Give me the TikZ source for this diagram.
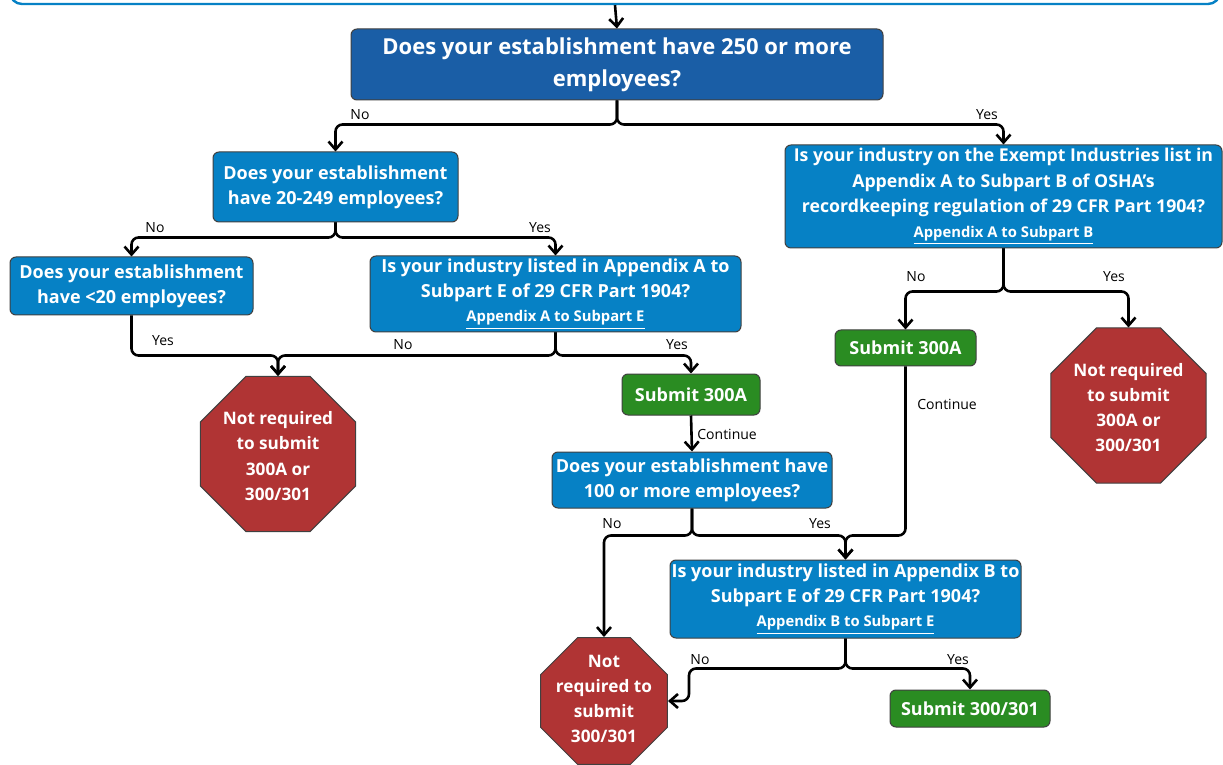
\documentclass[tikz,border=0pt]{standalone}
\usepackage{fontspec}
\setmainfont{Open Sans}
\usepackage{xcolor}
\usetikzlibrary{shapes.geometric,arrows.meta}

\definecolor{navyq}{HTML}{1A5EA6}
\definecolor{blueq}{HTML}{0681C5}
\definecolor{stopred}{HTML}{B03434}
\definecolor{goodgreen}{HTML}{2A8C22}

\newcommand{\linktext}[1]{{\fontsize{7.4}{8}\selectfont\underline{#1}}}

\begin{document}
\begin{tikzpicture}[x=0.5pt, y=-0.5pt,
  qbox/.style={rectangle, rounded corners=3pt, fill=blueq, draw=black!75, line width=0.5pt, text=white, font=\bfseries\fontsize{9}{12.5}\selectfont, align=center, inner sep=0pt},
  topq/.style={qbox, fill=navyq, font=\bfseries\fontsize{11}{16}\selectfont},
  greenbox/.style={qbox, fill=goodgreen},
  stopsign/.style={regular polygon, regular polygon sides=8, fill=stopred, draw=black!75, line width=0.5pt, inner sep=0pt},
  stoptext/.style={text=white, font=\bfseries\fontsize{8.6}{12.6}\selectfont, align=center, inner sep=0pt},
  flow/.style={draw, line width=1.3pt, rounded corners=3.5pt, -{Straight Barb[length=4pt,width=7pt]}},
  lbl/.style={font=\fontsize{7}{8}\selectfont, inner sep=1pt}]

\useasboundingbox (0,0) rectangle (1223,765);
\fill[white] (0,0) rectangle (1223,765);
\clip (0,0) rectangle (1223,765);

% box above (cut off)
\node[draw=blueq, line width=1.2pt, rounded corners=6pt, minimum width=605pt, minimum height=43pt] (prevbox) at (615,-39) {};

% questions
\node[topq, minimum width=266pt, minimum height=35.5pt] (q1) at (617,64.5) {Does your establishment have 250 or more\\employees?};
\node[qbox, minimum width=122.5pt, minimum height=35pt] (q2) at (335.5,187) {Does your establishment\\have 20-249 employees?};
\node[qbox, font=\bfseries\fontsize{8.85}{12.7}\selectfont, minimum width=218.5pt, minimum height=51.5pt] (q3) at (1003.5,196.5) {Is your industry on the Exempt Industries list in\\Appendix A to Subpart B of OSHA’s\\recordkeeping regulation of 29 CFR Part 1904?\\[-0.5pt]\linktext{Appendix A to Subpart B}};
\node[qbox, minimum width=121.5pt, minimum height=29pt] (q4) at (131.5,286) {Does your establishment\\have <20 employees?};
\node[qbox, minimum width=185.5pt, minimum height=38pt] (q5) at (555.5,294) {Is your industry listed in Appendix A to\\Subpart E of 29 CFR Part 1904?\\[-0.5pt]\linktext{Appendix A to Subpart E}};
\node[qbox, minimum width=140pt, minimum height=28pt] (q6) at (692,480) {Does your establishment have\\100 or more employees?};
\node[qbox, minimum width=175.5pt, minimum height=39pt] (q7) at (845.5,599) {Is your industry listed in Appendix B to\\Subpart E of 29 CFR Part 1904?\\[-0.5pt]\linktext{Appendix B to Subpart E}};

% results
\node[greenbox, minimum width=69pt, minimum height=20.5pt] (g1) at (691,394.5) {Submit 300A};
\node[greenbox, minimum width=70.5pt, minimum height=18pt] (g2) at (905.5,348) {Submit 300A};
\node[greenbox, minimum width=80pt, minimum height=18.5pt] (g3) at (970,708.5) {Submit 300/301};

\node[stopsign, minimum size=83.9pt] (s1) at (278,454) {};
\node[stoptext] at ([yshift=-1pt]s1) {Not required\\to submit\\300A or\\300/301};
\node[stopsign, minimum size=83.9pt] (s2) at (1128.5,405.5) {};
\node[stoptext] at ([yshift=-1pt]s2) {Not required\\to submit\\300A or\\300/301};
\node[stopsign, minimum size=68.7pt] (s3) at (604,701) {};
\node[stoptext] at ([yshift=1pt]s3) {Not\\required to\\submit\\300/301};

% connectors
\draw[flow] (prevbox.south) -- (q1.north);
\draw[flow] (q1.south) -- ++(0,24) -| (q2.north);
\draw[flow] (q1.south) -- ++(0,24) -| (q3.north);
\draw[flow] (q2.south) -- ++(0,15) -| (q4.north);
\draw[flow] (q2.south) -- ++(0,15) -| (q5.north);
\draw[flow] (q4.south) -- ++(0,40) -| (s1.north);
\draw[flow] (q5.south) -- ++(0,23) -| (s1.north);
\draw[flow] (q5.south) -- ++(0,23) -| (g1.north);
\draw[flow] (g1.south) -- (q6.north);
\draw[flow] (q3.south) -- ++(0,43) -| (g2.north);
\draw[flow] (q3.south) -- ++(0,43) -| (s2.north);
\draw[flow] (g2.south) -- ++(0,169) -| (q7.north);
\draw[flow] (q6.south) -- ++(0,27) -| (q7.north);
\draw[flow] (q6.south) -- ++(0,27) -| (s3.north);
\draw[flow] (q7.south) -- ++(0,30) -| ([xshift=10.5pt]s3.east) -- (s3.east);
\draw[flow] (q7.south) -- ++(0,30) -| (g3.north);

% branch labels
\node[lbl] at (360,115) {No};
\node[lbl] at (987,115) {Yes};
\node[lbl] at (155,228) {No};
\node[lbl] at (540,228) {Yes};
\node[lbl] at (163,341) {Yes};
\node[lbl] at (403,345) {No};
\node[lbl] at (677,345) {Yes};
\node[lbl, anchor=west] at (695,434) {Continue};
\node[lbl] at (916,277) {No};
\node[lbl] at (1114,277) {Yes};
\node[lbl, anchor=west] at (915,404) {Continue};
\node[lbl] at (612,524) {No};
\node[lbl] at (820,524) {Yes};
\node[lbl] at (700,660) {No};
\node[lbl] at (958,660) {Yes};

\end{tikzpicture}
\end{document}
